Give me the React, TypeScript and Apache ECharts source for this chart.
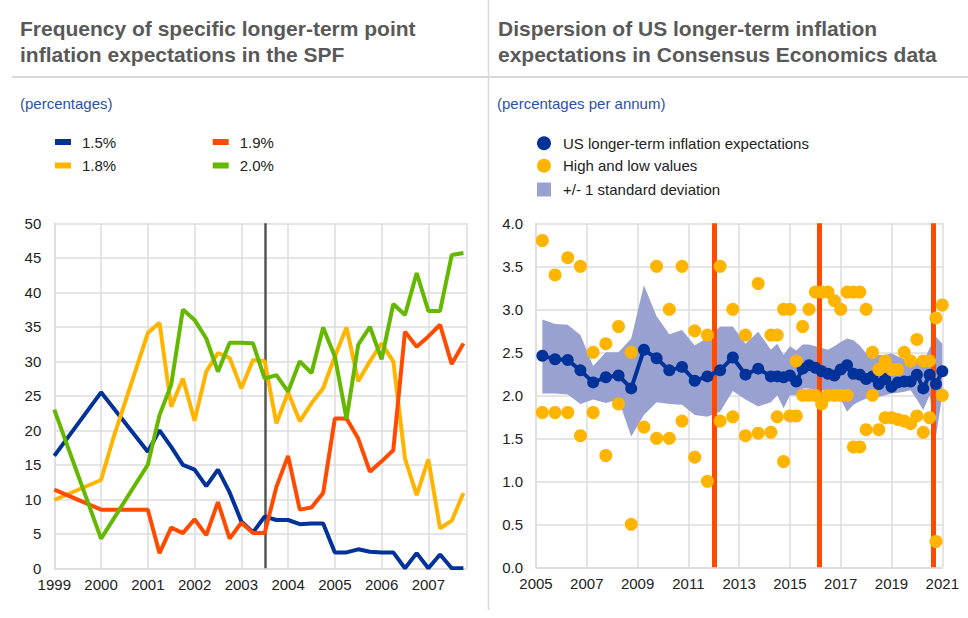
import React, { useEffect, useRef } from 'react';
import * as echarts from 'echarts';

const FONT = "'Liberation Sans', Arial, Helvetica, sans-serif";

// ---------- Left chart: SPF, quarterly survey rounds 1999Q1 - 2007Q4 ----------
const spfQuarters: number[] = [
  1999, 1999.25, 1999.5, 1999.75, 2000, 2000.25, 2000.5, 2000.75,
  2001, 2001.25, 2001.5, 2001.75, 2002, 2002.25, 2002.5, 2002.75,
  2003, 2003.25, 2003.5, 2003.75, 2004, 2004.25, 2004.5, 2004.75,
  2005, 2005.25, 2005.5, 2005.75, 2006, 2006.25, 2006.5, 2006.75,
  2007, 2007.25, 2007.5, 2007.75,
];
const spf15: (number | null)[] = [
  16.3, null, null, null, 25.5, null, null, null,
  16.9, 20.0, 17.6, 15.0, 14.3, 11.9, 14.3, 11.0,
  6.8, 5.2, 7.5, 7.0, 7.0, 6.4, 6.5, 6.5,
  2.3, 2.3, 2.75, 2.4, 2.3, 2.3, 0, 2.2,
  0, 2.0, 0, 0,
];
const spf18: (number | null)[] = [
  9.9, null, null, null, 12.8, 18.6, null, null,
  34.1, 35.6, 23.4, 27.5, 21.4, 28.5, 31.2, 30.5,
  26.1, 30.2, 30.0, 21.0, 25.5, 21.3, 23.9, 26.1,
  30.7, 34.9, 27.1, 30.0, 32.6, 30.0, 15.9, 10.6,
  15.8, 5.8, 6.9, 10.9,
];
const spf19: (number | null)[] = [
  11.4, null, null, null, 8.5, null, null, null,
  8.5, 2.2, 5.9, 5.1, 7.1, 4.8, 9.6, 4.3,
  6.6, 5.1, 5.1, 11.8, 16.3, 8.5, 8.8, 10.9,
  21.7, 21.7, 18.8, 14.0, 15.5, 17.1, 34.3, 32.1,
  33.6, 35.3, 29.6, 32.6,
];
const spf20: (number | null)[] = [
  23.0, null, null, null, 4.3, null, null, null,
  15.0, 22.2, 26.6, 37.5, 36.0, 33.3, 28.5, 32.7,
  32.7, 32.6, 27.5, 28.0, 25.6, 30.0, 28.3, 34.9,
  30.7, 21.7, 32.4, 35.0, 30.3, 38.3, 36.7, 42.8,
  37.3, 37.3, 45.4, 45.7,
];
const spfNames = ['1.5%', '1.8%', '1.9%', '2.0%'];
const spfColors = ['#003299', '#ffb400', '#ff4b00', '#65b800'];
const spfBreak = [2003.52];

// ---------- Right chart: Consensus Economics ----------
const ceDates: number[] = [
  2005.25, 2005.75, 2006.25, 2006.75, 2007.25, 2007.75, 2008.25, 2008.75,
  2009.25, 2009.75, 2010.25, 2010.75, 2011.25, 2011.75, 2012.25, 2012.75,
  2013.25, 2013.75,
  2014.25, 2014.5, 2014.75, 2015, 2015.25, 2015.5, 2015.75, 2016,
  2016.25, 2016.5, 2016.75, 2017, 2017.25, 2017.5, 2017.75, 2018,
  2018.25, 2018.5, 2018.75, 2019, 2019.25, 2019.5, 2019.75, 2020,
  2020.25, 2020.5, 2020.75, 2021,
];
const ceMean: number[] = [
  2.46, 2.42, 2.41, 2.29, 2.15, 2.21, 2.23, 2.08,
  2.53, 2.43, 2.29, 2.33, 2.17, 2.22, 2.29, 2.44,
  2.24, 2.31,
  2.22, 2.22, 2.21, 2.23, 2.16, 2.31, 2.35, 2.32,
  2.28, 2.25, 2.23, 2.30, 2.35, 2.25, 2.24, 2.19,
  2.22, 2.13, 2.19, 2.10, 2.15, 2.16, 2.16, 2.24,
  2.08, 2.24, 2.13, 2.28,
];
const ceUpper: number[] = [
  2.88, 2.83, 2.82, 2.70, 2.34, 2.50, 2.50, 2.66,
  3.28, 2.92, 2.71, 2.76, 2.58, 2.67, 2.80, 2.80,
  2.60, 2.74,
  2.53, 2.60, 2.47, 2.57, 2.52, 2.59, 2.59, 2.57,
  2.55, 2.53, 2.57, 2.62, 2.66, 2.64, 2.58, 2.49,
  2.45, 2.47, 2.47, 2.49, 2.45, 2.42, 2.40, 2.40,
  2.38, 2.55, 2.68, 2.60,
];
const ceLower: number[] = [
  2.02, 2.02, 2.01, 1.90, 1.95, 1.91, 1.95, 1.52,
  1.77, 1.92, 1.90, 1.89, 1.77, 1.75, 1.81, 2.05,
  1.95, 1.87,
  1.92, 2.00, 1.85, 2.00, 2.00, 2.08, 2.08, 2.06,
  2.06, 2.05, 2.04, 1.95, 1.81, 1.89, 1.93, 1.96,
  1.98, 1.98, 2.00, 2.02, 2.03, 2.04, 2.06, 1.95,
  1.83, 2.00, 1.52, 2.00,
];
const ceHigh: (number | null)[] = [
  3.8, 3.4, 3.6, 3.5, 2.5, 2.6, 2.8, 2.5,
  null, 3.5, 3.0, 3.5, 2.75, 2.7, 3.5, 3.0,
  2.7, 3.3,
  2.7, 2.7, 3.0, 3.0, 2.4, 2.8, 3.0, 3.2,
  3.2, 3.2, 3.1, 3.0, 3.2, 3.2, 3.2, 3.0,
  2.5, 2.3, 2.4, 2.3, 2.3, 2.5, 2.4, 2.65,
  2.4, 2.4, 2.9, 3.05,
];
const ceLow: (number | null)[] = [
  1.8, 1.8, 1.8, 1.53, 1.8, 1.3, 1.9, 0.5,
  1.63, 1.5, 1.5, 1.7, 1.28, 1.0, 1.7, 1.75,
  1.53, 1.56,
  1.57, 1.75, 1.23, 1.76, 1.76, 2.0, 2.0, 2.0,
  1.9, 2.0, 2.0, 2.0, 2.0, 1.4, 1.4, 1.6,
  2.0, 1.6, 1.74, 1.74, 1.72, 1.7, 1.67, 1.76,
  1.57, 1.74, 0.3, 2.0,
];
const cePolicyDates = [2012.02, 2016.14, 2020.64];
const ceNames = [
  'US longer-term inflation expectations',
  'High and low values',
  '+/- 1 standard deviation',
];
const ceBlue = '#003299';
const ceYellow = '#ffb400';
const ceBand = '#99a1d1';
const ceRed = '#ff4b00';

const pairs = (xs: number[], ys: (number | null)[]) =>
  xs.map((x, i) => (ys[i] == null ? null : [x, ys[i] as number])).filter((p) => p !== null) as number[][];

const GRID_COLOR = '#dcdcdc';
const LABEL_COLOR = '#222';

export default function App() {
  const ref = useRef<HTMLDivElement>(null);
  useEffect(() => {
    if (!ref.current) return;
    const chart = echarts.init(ref.current, undefined, { renderer: 'svg' });

    const axisCommon = {
      axisTick: { show: false },
      axisLine: { show: true, lineStyle: { color: GRID_COLOR, width: 1.5 } },
      splitLine: { show: true, lineStyle: { color: GRID_COLOR, width: 1.5 } },
    };
    const labelCommon = { fontSize: 15, color: LABEL_COLOR, fontFamily: FONT };
    const intOnly = (v: number) => (Math.abs(v - Math.round(v)) < 1e-6 ? String(Math.round(v)) : '');

    const leftLegend = (name: string, left: number, top: number) => ({
      data: [name], left, top, padding: 0, icon: 'rect', itemWidth: 16, itemHeight: 6,
      selectedMode: false, itemStyle: { borderWidth: 0 },
      textStyle: { fontSize: 15, color: LABEL_COLOR, fontFamily: FONT, lineHeight: 16, padding: [0, 0, 0, 6] },
    });
    const rightLegend = (name: string, icon: string, top: number) => ({
      data: [name], left: 537, top, padding: 0, icon, itemWidth: 14, itemHeight: 14,
      selectedMode: false, itemStyle: { borderWidth: 0 },
      textStyle: { fontSize: 15, color: LABEL_COLOR, fontFamily: FONT, lineHeight: 16, padding: [0, 0, 0, 7] },
    });

    const spfSeries = [spf15, spf18, spf19, spf20].map((vals, k) => ({
      name: spfNames[k],
      type: 'line',
      xAxisIndex: 0,
      yAxisIndex: 0,
      data: pairs(spfQuarters, vals),
      showSymbol: false,
      symbol: 'none',
      lineStyle: { color: spfColors[k], width: 4 },
      itemStyle: { color: spfColors[k] },
      z: 2,
      ...(k === 0
        ? {
            markLine: {
              silent: true,
              z: 1,
              symbol: ['none', 'none'],
              label: { show: false },
              lineStyle: { color: '#555555', width: 2.5, type: 'solid' },
              data: spfBreak.map((x) => ({ xAxis: x })),
            },
          }
        : {}),
    }));

    const option: any = {
      animation: false,
      textStyle: { fontFamily: FONT },
      title: [
        {
          text: 'Frequency of specific longer-term point\ninflation expectations in the SPF',
          left: 20, top: 15, padding: 0,
          textStyle: { fontSize: 21, fontWeight: 'bold', color: '#595959', fontFamily: FONT, lineHeight: 26 },
        },
        {
          text: 'Dispersion of US longer-term inflation\nexpectations in Consensus Economics data',
          left: 498, top: 15, padding: 0,
          textStyle: { fontSize: 21, fontWeight: 'bold', color: '#595959', fontFamily: FONT, lineHeight: 26 },
        },
        {
          text: '(percentages)', left: 20, top: 94, padding: 0,
          textStyle: { fontSize: 15, fontWeight: 'normal', color: '#2a52a5', fontFamily: FONT, lineHeight: 18 },
        },
        {
          text: '(percentages per annum)', left: 497, top: 94, padding: 0,
          textStyle: { fontSize: 15, fontWeight: 'normal', color: '#2a52a5', fontFamily: FONT, lineHeight: 18 },
        },
      ],
      legend: [
        leftLegend('1.5%', 55, 134),
        leftLegend('1.9%', 212.7, 134),
        leftLegend('1.8%', 55, 157.5),
        leftLegend('2.0%', 212.7, 157.5),
        rightLegend(ceNames[0], 'circle', 135.3),
        rightLegend(ceNames[1], 'circle', 157.7),
        rightLegend(ceNames[2], 'rect', 181.5),
      ],
      graphic: [
        { type: 'line', silent: true, shape: { x1: 12, y1: 77, x2: 968, y2: 77 }, style: { stroke: '#d9d9d9', lineWidth: 2 } },
        { type: 'line', silent: true, shape: { x1: 488.5, y1: 0, x2: 488.5, y2: 610 }, style: { stroke: '#d9d9d9', lineWidth: 1.5 } },
      ],
      grid: [
        { left: 54.3, top: 223.3, width: 412.4, height: 345 },
        { left: 536, top: 223.3, width: 406.3, height: 344 },
      ],
      xAxis: [
        {
          type: 'value', gridIndex: 0, min: 1999, max: 2007.82, interval: 1,
          ...axisCommon,
          axisLabel: { ...labelCommon, margin: 9, formatter: intOnly, showMaxLabel: false },
        },
        {
          type: 'value', gridIndex: 1, min: 2005, max: 2021, interval: 2,
          ...axisCommon,
          axisLabel: { ...labelCommon, margin: 9, formatter: intOnly },
        },
      ],
      yAxis: [
        {
          type: 'value', gridIndex: 0, min: 0, max: 50, interval: 5,
          ...axisCommon,
          axisLabel: { ...labelCommon, margin: 13 },
        },
        {
          type: 'value', gridIndex: 1, min: 0, max: 4, interval: 0.5,
          ...axisCommon,
          axisLabel: { ...labelCommon, margin: 13, formatter: (v: number) => v.toFixed(1) },
        },
      ],
      series: [
        ...spfSeries,
        {
          name: ceNames[2],
          type: 'custom',
          xAxisIndex: 1,
          yAxisIndex: 1,
          data: ceDates.map((x, i) => [x, ceLower[i], ceUpper[i]]),
          encode: { x: 0, y: [1, 2] },
          itemStyle: { color: ceBand },
          z: 2,
          silent: true,
          renderItem: (params: any, api: any) => {
            if (params.dataIndex !== 0) return null;
            const top = ceDates.map((x, i) => api.coord([x, ceUpper[i]]));
            const bottom = ceDates.map((x, i) => api.coord([x, ceLower[i]])).reverse();
            return {
              type: 'polygon',
              shape: { points: [...top, ...bottom] },
              style: { fill: ceBand },
            };
          },
        },
        {
          name: ceNames[0],
          type: 'line',
          xAxisIndex: 1,
          yAxisIndex: 1,
          data: pairs(ceDates, ceMean),
          symbol: 'circle',
          symbolSize: 12,
          showSymbol: true,
          lineStyle: { color: ceBlue, width: 4 },
          itemStyle: { color: ceBlue },
          z: 4,
          markLine: {
            silent: true,
            z: 3,
            symbol: ['none', 'none'],
            label: { show: false },
            lineStyle: { color: ceRed, width: 5, type: 'solid' },
            data: cePolicyDates.map((x) => ({ xAxis: x })),
          },
        },
        {
          name: ceNames[1],
          type: 'scatter',
          xAxisIndex: 1,
          yAxisIndex: 1,
          data: [...pairs(ceDates, ceHigh), ...pairs(ceDates, ceLow)],
          symbol: 'circle',
          symbolSize: 13,
          itemStyle: { color: ceYellow, opacity: 1 },
          z: 5,
        },
      ],
    };
    chart.setOption(option);
    return () => chart.dispose();
  }, []);

  return (
    <div
      ref={ref}
      style={{ position: 'absolute', left: 0, top: 0, width: 968, height: 618, background: '#ffffff' }}
    />
  );
}
